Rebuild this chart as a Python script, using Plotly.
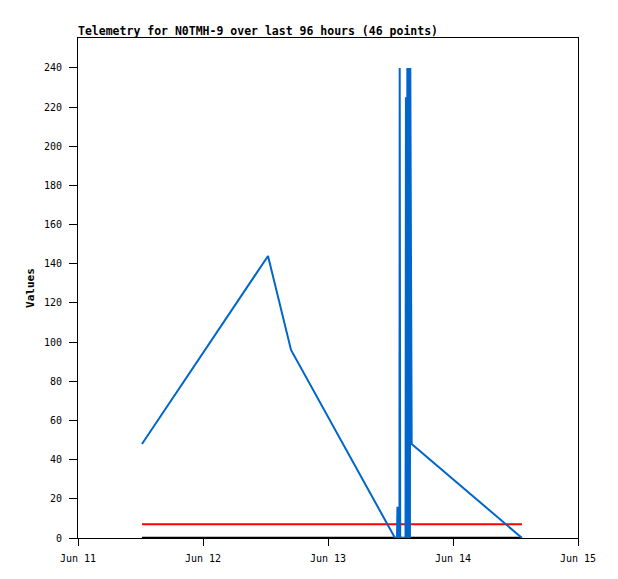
import plotly.graph_objects as go

# Blue telemetry series (timestamps, values)
blue_times = [
    "2024-06-11 12:17", "2024-06-12 12:29", "2024-06-12 16:54", "2024-06-13 12:52",
    "2024-06-13 13:15", "2024-06-13 13:20", "2024-06-13 13:26", "2024-06-13 13:43",
    "2024-06-13 13:46", "2024-06-13 13:52", "2024-06-13 14:53", "2024-06-13 14:58",
    "2024-06-13 15:10", "2024-06-13 15:14", "2024-06-13 15:27", "2024-06-13 15:31",
    "2024-06-13 15:44", "2024-06-13 15:48", "2024-06-13 15:58", "2024-06-13 16:04",
    "2024-06-14 13:15",
]
blue_values = [
    48, 144, 96, 0,
    0, 16, 0, 0,
    240, 0, 0, 225,
    0, 240, 0, 240,
    0, 240, 120, 48,
    0,
]

# Red and black constant series
red_times = ["2024-06-11 12:17", "2024-06-14 13:15"]
red_values = [7, 7]
black_times = ["2024-06-11 12:17", "2024-06-14 13:15"]
black_values = [0, 0]

# Axis ticks
x_tickvals = ["2024-06-11", "2024-06-12", "2024-06-13", "2024-06-14", "2024-06-15"]
x_ticktext = ["Jun 11", "Jun 12", "Jun 13", "Jun 14", "Jun 15"]
y_tickvals = list(range(0, 241, 20))

title_text = "Telemetry for N0TMH-9 over last 96 hours (46 points)"

mono = "DejaVu Sans Mono"

fig = go.Figure()
fig.add_trace(go.Scatter(x=black_times, y=black_values, mode="lines",
                         line=dict(color="#000000", width=2.5), showlegend=False))
fig.add_trace(go.Scatter(x=red_times, y=red_values, mode="lines",
                         line=dict(color="#ff0000", width=2), showlegend=False))
fig.add_trace(go.Scatter(x=blue_times, y=blue_values, mode="lines",
                         line=dict(color="#0066cc", width=2), showlegend=False))

axis_common = dict(
    showline=True, linecolor="black", linewidth=1, mirror=True,
    ticks="outside", tickcolor="black", tickwidth=1,
    showgrid=False, zeroline=False,
    tickfont=dict(family=mono, size=10, color="black"),
)

fig.update_layout(
    width=610, height=571,
    margin=dict(l=70, r=40, t=30, b=41),
    paper_bgcolor="white", plot_bgcolor="white",
    xaxis=dict(type="date", range=["2024-06-11", "2024-06-15"],
               tickmode="array", tickvals=x_tickvals, ticktext=x_ticktext,
               ticklen=7, ticklabelstandoff=4, **axis_common),
    yaxis=dict(range=[0, 255.3], tickmode="array", tickvals=y_tickvals,
               ticklen=8, ticklabelstandoff=5,
               title=dict(text="<b>Values</b>", font=dict(family=mono, size=11, color="black"),
                          standoff=7),
               **axis_common),
    annotations=[dict(text="<b>" + title_text + "</b>", xref="paper", yref="paper",
                      x=0, y=1, xanchor="left", yanchor="bottom", yshift=-2, xshift=-2,
                      showarrow=False, font=dict(family=mono, size=11.5, color="black"))],
)

fig.write_html("out.html")
